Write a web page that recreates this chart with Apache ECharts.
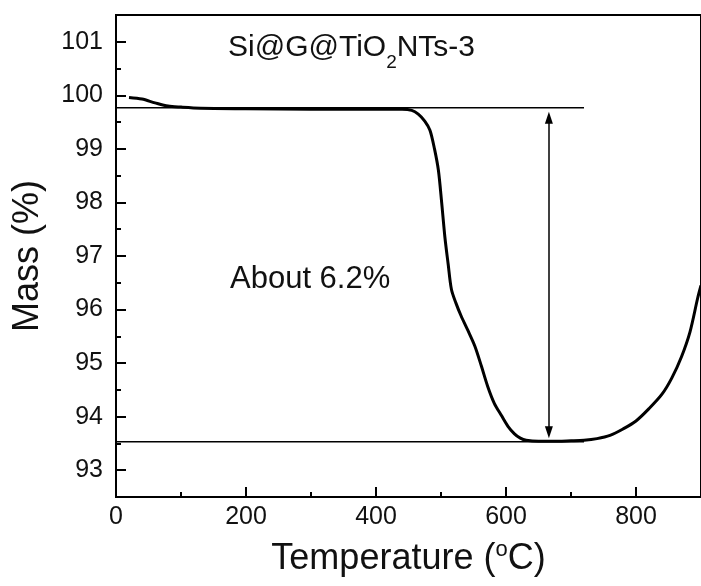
<!DOCTYPE html>
<html>
<head>
<meta charset="utf-8">
<script src="https://cdn.jsdelivr.net/npm/echarts@6/dist/echarts.min.js"></script>
<style>
html,body{margin:0;padding:0;background:#fff;}
#chart{width:701px;height:586px;}
</style>
</head>
<body>
<div id="chart"></div>
<script>
// ---- data ----
const temps = [20,40,60,80,100,130,200,300,400,440,455,465,475,483,490,496,501,506,511,516,523,531,541,552,562,572,582,593,603,613,622,631,650,670,700,720,740,760,780,800,820,840,855,870,883,895,900];
const mass  = [99.96,99.93,99.86,99.80,99.78,99.76,99.75,99.74,99.74,99.74,99.72,99.65,99.52,99.35,99.00,98.60,98.00,97.35,96.85,96.38,96.12,95.88,95.62,95.32,94.95,94.56,94.25,94.02,93.82,93.68,93.60,93.56,93.54,93.54,93.55,93.56,93.59,93.65,93.77,93.92,94.15,94.42,94.72,95.12,95.58,96.22,96.45];
const xMajorTicks = [0,200,400,600,800];
const xMinorTicks = [100,300,500,700,900];
const yMajorTicks = [93,94,95,96,97,98,99,100,101];
const yMinorTicks = [93.5,94.5,95.5,96.5,97.5,98.5,99.5,100.5];
const refStartT = 0, refEndT = 720;
const refTop = 99.77, refBottom = 93.53;
const arrowT = 666;
const arrowFrom = 99.58, arrowTo = 93.71;
const sampleLabel = 'Si@G@TiO2NTs-3';
const lossLabel = 'About 6.2%';

const chart = echarts.init(document.getElementById('chart'), null, {renderer:'canvas'});
const FONT = '"Liberation Sans", Arial, Helvetica, sans-serif';
const black = '#000';

const option = {
  animation: false,
  backgroundColor: '#fff',
  textStyle: {fontFamily: FONT},
  grid: {left: 116, top: 15, width: 589, height: 482, show: true, borderColor: black, borderWidth: 2, backgroundColor: 'transparent', containLabel: false},
  xAxis: [{
    type: 'value', min: 0, max: 900, position: 'bottom',
    axisLine: {show: true, onZero: false, lineStyle: {color: black, width: 2}},
    axisTick: {show: true, inside: true, length: 10, lineStyle: {color: black, width: 2}, customValues: xMajorTicks},
    axisLabel: {show: true, fontSize: 25, color: '#111', margin: 8, fontFamily: FONT, customValues: xMajorTicks},
    splitLine: {show: false},
    name: '{a|Temperature (}{s|o}{a|C)}', nameLocation: 'middle', nameGap: 42,
    nameTextStyle: {fontFamily: FONT, color: '#111', rich: {
      a: {fontSize: 36, lineHeight: 40, fontFamily: FONT, color: '#111'},
      s: {fontSize: 22, lineHeight: 22, verticalAlign: 'top', fontFamily: FONT, color: '#111'}
    }}
  }, {
    type: 'value', min: 0, max: 900, position: 'bottom',
    axisLine: {show: false},
    axisTick: {show: true, inside: true, length: 5, lineStyle: {color: black, width: 2}, customValues: xMinorTicks},
    axisLabel: {show: false},
    splitLine: {show: false}
  }],
  yAxis: [{
    type: 'value', min: 92.5, max: 101.5, position: 'left',
    axisLine: {show: true, onZero: false, lineStyle: {color: black, width: 2}},
    axisTick: {show: true, inside: true, length: 10, lineStyle: {color: black, width: 2}, customValues: yMajorTicks},
    axisLabel: {show: true, fontSize: 25, color: '#111', margin: 13, fontFamily: FONT, customValues: yMajorTicks},
    splitLine: {show: false},
    name: 'Mass (%)', nameLocation: 'middle', nameGap: 70,
    nameTextStyle: {fontSize: 36, fontFamily: FONT, color: '#111'}
  }, {
    type: 'value', min: 92.5, max: 101.5, position: 'left',
    axisLine: {show: false},
    axisTick: {show: true, inside: true, length: 5, lineStyle: {color: black, width: 2}, customValues: yMinorTicks},
    axisLabel: {show: false},
    splitLine: {show: false}
  }],
  graphic: [{
    type: 'text', left: 228, top: 33, silent: true,
    style: {
      text: '{a|Si@G@TiO}{b|2}{a|NTs-3}',
      rich: {
        a: {fontSize: 30, lineHeight: 32, verticalAlign: 'top', fontFamily: FONT, fill: '#111'},
        b: {fontSize: 19, lineHeight: 59, verticalAlign: 'middle', fontFamily: FONT, fill: '#111'}
      }
    }
  }, {
    type: 'text', left: 230, top: 264, silent: true,
    style: {text: lossLabel, fontSize: 31, fontFamily: FONT, fill: '#111'}
  }],
  series: [{
    name: sampleLabel, type: 'line',
    data: temps.map((t, i) => [t, mass[i]]),
    showSymbol: false, smooth: 0.3,
    lineStyle: {color: black, width: 3},
    z: 5
  }, {
    type: 'line', data: [[refStartT, refTop], [refEndT, refTop]],
    showSymbol: false, lineStyle: {color: black, width: 1.5}, z: 3
  }, {
    type: 'line', data: [[refStartT, refBottom], [refEndT, refBottom]],
    showSymbol: false, lineStyle: {color: black, width: 1.5}, z: 3,
    markLine: {
      silent: true, symbol: ['triangle', 'triangle'], symbolSize: [8, 12],
      label: {show: false},
      lineStyle: {color: black, width: 1.5, type: 'solid'},
      data: [[{coord: [arrowT, arrowFrom]}, {coord: [arrowT, arrowTo]}]]
    }
  }]
};
chart.setOption(option);
</script>
</body>
</html>
